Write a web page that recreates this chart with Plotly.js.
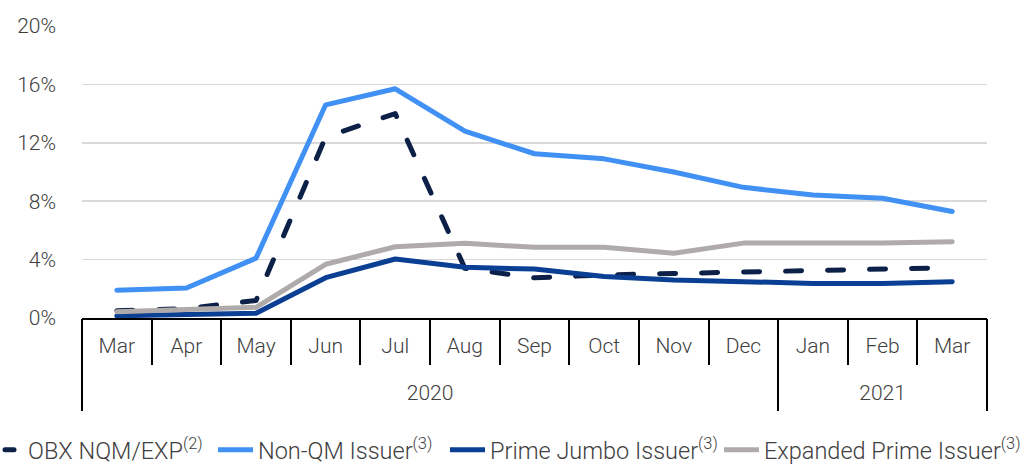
<!DOCTYPE html>
<html>
<head>
<meta charset="utf-8">
<script src="https://cdn.plot.ly/plotly-3.0.1.min.js"></script>
<style>
html,body{margin:0;padding:0;background:#fff;}
#chart{width:1027px;height:464px;}
.scatterlayer .js-line{stroke-linecap:round !important;stroke-linejoin:round !important;}
g.legend g.legendlines path{stroke-dasharray:9px,100px !important;stroke-dashoffset:97px !important;stroke-linecap:round !important;}
</style>
</head>
<body>
<div id="chart"></div>
<script>
// ---- data ----
const years = ["2020","2020","2020","2020","2020","2020","2020","2020","2020","2020","2021","2021","2021"];
const months = ["Mar","Apr","May","Jun","Jul","Aug","Sep","Oct","Nov","Dec","Jan","Feb","Mar"];
const obxNqmExp = [0.5, 0.65, 1.2, 12.4, 14.0, 3.4, 2.75, 2.95, 3.05, 3.15, 3.2, 3.3, 3.45];
const nonQmIssuer = [1.9, 2.05, 4.1, 14.6, 15.7, 12.8, 11.25, 10.9, 10.0, 8.95, 8.42, 8.2, 7.3];
const primeJumboIssuer = [0.15, 0.2, 0.32, 2.76, 4.04, 3.47, 3.35, 2.85, 2.6, 2.49, 2.37, 2.37, 2.49];
const expandedPrimeIssuer = [0.43, 0.55, 0.73, 3.68, 4.88, 5.12, 4.84, 4.84, 4.43, 5.13, 5.13, 5.13, 5.23];
const yTicks = [0, 4, 8, 12, 16, 20];
const yearLabels = ["2020", "2021"];

// category keys (unique per month) and year-group geometry in category index units
const cats = months.map((m, i) => years[i] + " " + m);
const yearCenters = yearLabels.map(yr => {
  const idx = years.map((y, i) => y === yr ? i : -1).filter(i => i >= 0);
  return (idx[0] + idx[idx.length - 1]) / 2;
});
const yearBounds = [-0.5].concat(yearLabels.map(yr => years.lastIndexOf(yr) + 0.5));

const FONT = "Roboto, 'Open Sans', sans-serif";
const TXT = "#404040";

const traces = [
  {x: cats, y: obxNqmExp, name: "OBX NQM/EXP<sup>(2)</sup>", type: "scatter", mode: "lines",
   line: {color: "#0d2148", width: 5, dash: "16px,26px"}, legend: "legend"},
  {x: cats, y: nonQmIssuer, name: "Non-QM Issuer<sup>(3)</sup>", type: "scatter", mode: "lines",
   line: {color: "#4191f5", width: 5}, legend: "legend2"},
  {x: cats, y: primeJumboIssuer, name: "Prime Jumbo Issuer<sup>(3)</sup>", type: "scatter", mode: "lines",
   line: {color: "#0b3f93", width: 5}, legend: "legend3"},
  {x: cats, y: expandedPrimeIssuer, name: "Expanded Prime Issuer<sup>(3)</sup>", type: "scatter", mode: "lines",
   line: {color: "#afabaa", width: 5}, legend: "legend4"},
  // helper (draws nothing) so the year-group axis is rendered
  {x: yearCenters, y: yearCenters.map(() => null), xaxis: "x2", yaxis: "y", type: "scatter",
   mode: "lines", showlegend: false, hoverinfo: "skip"}
];

function leg(px, opts) {
  return Object.assign({xref: "container", yref: "container", x: px / 1027, y: 1 - 450 / 464,
          xanchor: "left", yanchor: "middle", orientation: "h",
          bgcolor: "rgba(0,0,0,0)", borderwidth: 0,
          font: {family: FONT, size: 23.5, color: TXT, weight: 300}}, opts || {});
}

const layout = {
  width: 1027, height: 464,
  margin: {l: 82, r: 40, t: 26, b: 146, pad: 0},
  paper_bgcolor: "#fff", plot_bgcolor: "#fff",
  font: {family: FONT, size: 21, color: TXT, weight: 300},
  showlegend: true,
  legend: leg(0, {indentation: -12}),
  legend2: leg(213, {itemwidth: 35}),
  legend3: leg(445, {itemwidth: 35}),
  legend4: leg(719, {itemwidth: 35}),
  xaxis: {
    type: "category", range: [-0.5, cats.length - 0.5],
    tickvals: cats, ticktext: months,
    showline: true, linecolor: "#000", linewidth: 2,
    ticks: "outside", ticklen: 45, tickwidth: 2, tickcolor: "#000",
    tickson: "boundaries",
    ticklabelstandoff: 8,
    showgrid: false, zeroline: false,
    tickfont: {family: FONT, size: 21, color: TXT, weight: 300}
  },
  xaxis2: {
    type: "linear", overlaying: "x", anchor: "y", side: "bottom",
    range: [-0.5, cats.length - 0.5],
    tickmode: "array", tickvals: yearCenters, ticktext: yearLabels,
    ticks: "", showline: false, showgrid: false, zeroline: false,
    ticklabelstandoff: 60,
    minor: {tickmode: "array", tickvals: yearBounds, ticks: "outside", ticklen: 92,
            tickwidth: 2, tickcolor: "#000", showgrid: false},
    tickfont: {family: FONT, size: 21, color: TXT, weight: 300}
  },
  yaxis: {
    range: [0, 20], tickvals: yTicks, ticktext: yTicks.map(v => v + "%"),
    showgrid: true, gridcolor: "#d9d9d9", gridwidth: 1.5,
    zeroline: false, showline: false, ticks: "",
    ticklabelstandoff: 25,
    tickfont: {family: FONT, size: 21, color: TXT, weight: 300}
  }
};

Plotly.newPlot("chart", traces, layout, {displayModeBar: false, staticPlot: true});
</script>
</body>
</html>
